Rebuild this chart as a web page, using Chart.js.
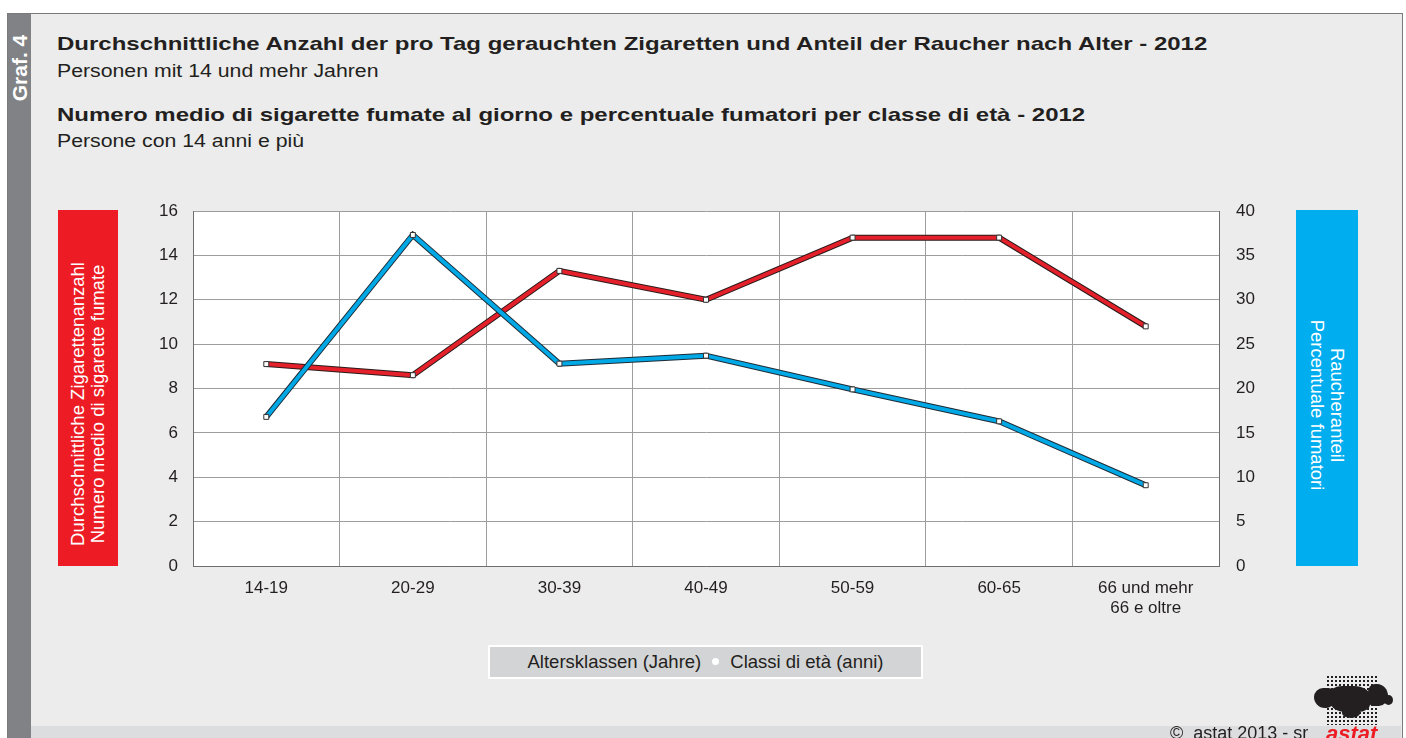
<!DOCTYPE html>
<html>
<head>
<meta charset="utf-8">
<script src="https://cdn.jsdelivr.net/npm/chart.js@4"></script>
<style>
    html, body { margin: 0; padding: 0; width: 1406px; height: 738px; overflow: hidden; background: #fff; font-family: "Liberation Sans", Arial, sans-serif; color: #231f20; }
    #frame { position: absolute; left: 7px; top: 13px; width: 1394px; height: 740px; background: #ebeceb; border: 1px solid #7a7a7a; }
    #strip { position: absolute; left: 8px; top: 14px; width: 23px; height: 724px; background: #808285; }
    #strip span { position: absolute; left: 50%; top: 54px; transform: translate(-50%, -50%) rotate(-90deg); color: #fff; font-weight: bold; font-size: 21px; white-space: nowrap; }
    .t { position: absolute; left: 57px; white-space: nowrap; transform-origin: 0 50%; }
    .b { font-weight: bold; font-size: 19px; transform: scaleX(1.263); }
    .s { font-size: 17.5px; transform: scaleX(1.215); }
    canvas { position: absolute; left: 0; top: 0; }
    .box { position: absolute; top: 210px; height: 356px; }
    .box span { position: absolute; left: 50%; top: 50%; color: #fff; font-size: 18.5px; line-height: 20px; white-space: nowrap; text-align: center; }
    #lbox { left: 58px; width: 60px; background: #ed1c24; }
    #lbox span { transform: translate(-50%, -50%) translate(0, 16px) rotate(-90deg); }
    #rbox { left: 1296px; width: 62px; background: #00aeef; }
    #rbox span { transform: translate(-50%, -50%) translate(0, 17px) rotate(90deg); }
    #xtitle { position: absolute; left: 488px; top: 645px; width: 431px; height: 30px; background: #d3d4d5; border: 2px solid #fff; text-align: center; font-size: 18.5px; line-height: 30px; white-space: nowrap; }
    #xtitle b { display: inline-block; width: 7px; height: 7px; border-radius: 50%; background: #fff; vertical-align: middle; margin: 0 11px 3px 11px; }
    #footer { position: absolute; left: 31px; top: 726px; width: 1370px; height: 14px; background: #dcdddf; }
    #copy { position: absolute; left: 1170px; top: 723px; font-size: 18px; }
    #dots { position: absolute; left: 1326px; top: 675px; width: 52px; height: 50px;
        background-image: radial-gradient(circle, #231f20 1.1px, transparent 1.5px); background-size: 4px 4px; }
    .blob { position: absolute; background: #231f20; }
    #logo { position: absolute; left: 1326px; top: 721px; color: #ed1c24; font-weight: bold; font-style: italic; font-size: 22px; }
</style>
</head>
<body>
<div id="frame"></div>
<div id="strip"><span>Graf. 4</span></div>
<div class="t b" style="top:33px">Durchschnittliche Anzahl der pro Tag gerauchten Zigaretten und Anteil der Raucher nach Alter - 2012</div>
<div class="t s" style="top:61px">Personen mit 14 und mehr Jahren</div>
<div class="t b" style="top:104px">Numero medio di sigarette fumate al giorno e percentuale fumatori per classe di età - 2012</div>
<div class="t s" style="top:131px">Persone con 14 anni e più</div>
<div id="footer"></div>
<canvas id="smokeChart" width="1406" height="738"></canvas>
<div id="lbox" class="box"><span>Durchschnittliche Zigarettenanzahl<br>Numero medio di sigarette fumate</span></div>
<div id="rbox" class="box"><span>Raucheranteil<br>Percentuale fumatori</span></div>
<div id="xtitle">Altersklassen (Jahre)<b></b>Classi di età (anni)</div>
<div id="copy">©&nbsp; astat 2013 - sr</div>
<div class="blob" style="left:1314px;top:688px;width:20px;height:20px;border-radius:50% 30% 40% 60%"></div>
<div class="blob" style="left:1330px;top:686px;width:40px;height:26px;border-radius:30% 40% 30% 40%"></div>
<div class="blob" style="left:1368px;top:684px;width:20px;height:22px;border-radius:40% 60% 50% 30%"></div>
<div class="blob" style="left:1384px;top:695px;width:9px;height:10px;border-radius:50%"></div>
<div class="blob" style="left:1342px;top:708px;width:18px;height:10px;border-radius:20% 20% 60% 60%"></div>
<div id="dots"></div>
<div id="logo">astat</div>
<script>
const ageClasses = ["14-19", "20-29", "30-39", "40-49", "50-59", "60-65", ["66 und mehr", "66 e oltre"]];
const cigarettesPerDay = [9.1, 8.6, 13.3, 12.0, 14.8, 14.8, 10.8];
const smokerShare = [16.8, 37.3, 22.8, 23.7, 19.9, 16.3, 9.1];

const plotBackground = {
    id: "plotBackground",
    beforeDraw(chart) {
        const a = chart.chartArea;
        const ctx = chart.ctx;
        ctx.save();
        ctx.fillStyle = "#ffffff";
        ctx.fillRect(a.left, a.top, a.right - a.left, a.bottom - a.top);
        ctx.restore();
    }
};

const tickFont = { family: "'Liberation Sans', Arial, sans-serif", size: 17 };

new Chart(document.getElementById("smokeChart"), {
    type: "line",
    data: {
        labels: ageClasses,
        datasets: [
            {
                data: smokerShare,
                yAxisID: "y1",
                borderColor: "#00a8e6",
                borderWidth: 4,
                pointStyle: "rect",
                pointRadius: 3.5,
                pointBackgroundColor: "#ffffff",
                pointBorderColor: "#333333",
                pointBorderWidth: 1,
                order: 0
            },
            {
                data: smokerShare,
                yAxisID: "y1",
                borderColor: "#1d2a35",
                borderWidth: 6,
                pointRadius: 0,
                order: 1
            },
            {
                data: cigarettesPerDay,
                yAxisID: "y",
                borderColor: "#e4202a",
                borderWidth: 4,
                pointStyle: "rect",
                pointRadius: 3.5,
                pointBackgroundColor: "#ffffff",
                pointBorderColor: "#333333",
                pointBorderWidth: 1,
                order: 2
            },
            {
                data: cigarettesPerDay,
                yAxisID: "y",
                borderColor: "#2b1a1a",
                borderWidth: 6,
                pointRadius: 0,
                order: 3
            }
        ]
    },
    options: {
        responsive: false,
        devicePixelRatio: 1,
        animation: false,
        layout: { padding: { top: 211, left: 0, right: 0, bottom: 0 } },
        plugins: {
            legend: { display: false },
            tooltip: { enabled: false }
        },
        elements: { line: { tension: 0, borderCapStyle: "butt", borderJoinStyle: "miter" } },
        scales: {
            x: {
                offset: true,
                grid: { color: "#9d9d9d", offset: true, drawTicks: false },
                border: { color: "#6e6e6e" },
                ticks: { font: tickFont, color: "#231f20", padding: 12, maxRotation: 0 },
                afterFit: s => { s.height = 172; }
            },
            y: {
                position: "left",
                min: 0,
                max: 16,
                grid: { color: "#9d9d9d", drawTicks: false },
                border: { color: "#6e6e6e" },
                ticks: { stepSize: 2, font: tickFont, color: "#231f20", padding: 15 },
                afterFit: s => { s.width = 193; }
            },
            y1: {
                position: "right",
                min: 0,
                max: 40,
                grid: { drawOnChartArea: false, drawTicks: false },
                border: { color: "#6e6e6e" },
                ticks: { stepSize: 5, font: tickFont, color: "#231f20", padding: 17 },
                afterFit: s => { s.width = 187; }
            }
        }
    },
    plugins: [plotBackground]
});
</script>
</body>
</html>
